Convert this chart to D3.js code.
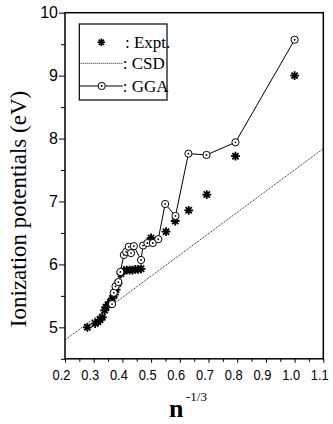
<!DOCTYPE html>
<html>
<head>
<meta charset="utf-8">
<script src="https://cdnjs.cloudflare.com/ajax/libs/d3/7.8.5/d3.min.js"></script>
<style>
	body { margin: 0; background: #fff; }
	svg { display: block; font-family: "Liberation Serif", "Times New Roman", serif; }
	.axis path, .axis line { stroke: #000; }
	.axis text { fill: #000; }
</style>
</head>
<body>
<svg width="333" height="424"></svg>
<script>
//	data
var exptX = [0.278, 0.305, 0.315, 0.322, 0.330, 0.338, 0.343, 0.350, 0.358, 0.365, 0.372, 0.378, 0.385, 0.395,
	0.405, 0.415, 0.425, 0.435, 0.445, 0.455, 0.465, 0.500, 0.552, 0.584, 0.631, 0.694, 0.794, 1.000];
var exptY = [5.00, 5.06, 5.09, 5.12, 5.16, 5.27, 5.32, 5.36, 5.40, 5.46, 5.52, 5.60, 5.70, 5.85,
	5.90, 5.91, 5.91, 5.91, 5.92, 5.92, 5.93, 6.42, 6.52, 6.69, 6.86, 7.11, 7.72, 9.00];
var ggaX = [0.364, 0.370, 0.376, 0.386, 0.393, 0.405, 0.413, 0.422, 0.430, 0.440, 0.465, 0.472, 0.487, 0.506,
	0.525, 0.549, 0.585, 0.630, 0.693, 0.794, 1.000];
var ggaY = [5.37, 5.55, 5.65, 5.72, 5.88, 6.15, 6.20, 6.28, 6.18, 6.29, 6.07, 6.30, 6.34, 6.34,
	6.40, 6.96, 6.77, 7.76, 7.74, 7.94, 9.57];
var csdX = [0.2, 1.1];
var csdY = [4.80, 7.84];
var xTicks = [0.2, 0.3, 0.4, 0.5, 0.6, 0.7, 0.8, 0.9, 1.0, 1.1];
var yTicks = [5, 6, 7, 8, 9, 10];
var legendLabels = [": Expt.", ": CSD", ": GGA"];

var svg = d3.select("svg"),
	margin = {top: 12.7, right: 9.7, bottom: 65.2, left: 65};
var width = svg.attr("width") - margin.left - margin.right,
	height = svg.attr("height") - margin.top - margin.bottom;
var g = svg.append("g").attr("transform", "translate(" + margin.left + "," + margin.top + ")");

var x = d3.scaleLinear().domain([0.2, 1.1]).range([0, width]),
	y = d3.scaleLinear().domain([4.5, 10]).range([height, 0]);

//	asterisk marker, 8 spokes
function star(r) {
	var p = "";
	for (var i = 0; i < 4; i++) {
		var a = i * Math.PI / 4;
		p += "M" + (-r * Math.cos(a)) + "," + (-r * Math.sin(a)) + "L" + (r * Math.cos(a)) + "," + (r * Math.sin(a));
	}
	return p;
}

//	minor ticks
g.append("g")
	.attr("class", "axis")
	.attr("transform", "translate(0," + height + ")")
	.call(d3.axisBottom(x).tickValues(d3.range(0.25, 1.1, 0.1)).tickSize(3).tickFormat(""))
	.select(".domain").remove();
g.append("g")
	.attr("class", "axis")
	.call(d3.axisLeft(y).tickValues(d3.range(4.5, 10, 1)).tickSize(4).tickFormat(""))
	.select(".domain").remove();

//	major ticks + labels
var axX = g.append("g")
	.attr("class", "axis")
	.attr("transform", "translate(0," + height + ")")
	.call(d3.axisBottom(x).tickValues(xTicks).tickSize(4).tickPadding(7).tickFormat(d3.format(".1f")));
axX.select(".domain").remove();
axX.selectAll("text")
	.attr("font-size", 15)
	.attr("transform", "translate(-4,0) scale(0.86,1)");

var axY = g.append("g")
	.attr("class", "axis")
	.call(d3.axisLeft(y).tickValues(yTicks).tickSize(6).tickPadding(1).tickFormat(d3.format("d")));
axY.select(".domain").remove();
axY.selectAll("text").attr("font-size", 16);

//	frame
g.append("rect")
	.attr("width", width)
	.attr("height", height)
	.attr("fill", "none")
	.attr("stroke", "#000")
	.attr("stroke-width", 1.5);

//	CSD dotted line
var csd = csdX.map(function(d, i) { return {x: d, y: csdY[i]}; });
var line = d3.line()
	.x(function(d) { return x(d.x); })
	.y(function(d) { return y(d.y); });
g.append("path")
	.datum(csd)
	.attr("d", line)
	.attr("fill", "none")
	.attr("stroke", "#000")
	.attr("stroke-width", 0.9)
	.attr("stroke-dasharray", "1,1");

//	GGA line + circles
var gga = ggaX.map(function(d, i) { return {x: d, y: ggaY[i]}; });
g.append("path")
	.datum(gga)
	.attr("d", line)
	.attr("fill", "none")
	.attr("stroke", "#000")
	.attr("stroke-width", 1);

//	Expt asterisks
var expt = exptX.map(function(d, i) { return {x: d, y: exptY[i]}; });
g.selectAll(".expt")
	.data(expt)
	.enter().append("path")
		.attr("class", "expt")
		.attr("transform", function(d) { return "translate(" + x(d.x) + "," + y(d.y) + ")"; })
		.attr("d", star(4.4))
		.attr("stroke", "#000")
		.attr("stroke-width", 1.8);

var circ = g.selectAll(".gga")
	.data(gga)
	.enter().append("g")
		.attr("class", "gga")
		.attr("transform", function(d) { return "translate(" + x(d.x) + "," + y(d.y) + ")"; });
circ.append("circle")
	.attr("r", 3.6)
	.attr("fill", "#fff")
	.attr("stroke", "#000")
	.attr("stroke-width", 1);
circ.append("circle")
	.attr("r", 0.9)
	.attr("fill", "#000");

//	legend
var leg = svg.append("g").attr("transform", "translate(79.3,24)");
leg.append("rect")
	.attr("width", 87.7)
	.attr("height", 76)
	.attr("fill", "#fff")
	.attr("stroke", "#000")
	.attr("stroke-width", 1.2);
var rowY = [18.3, 39.3, 62];
leg.append("path")
	.attr("transform", "translate(22," + rowY[0] + ")")
	.attr("d", star(3.8))
	.attr("stroke", "#000")
	.attr("stroke-width", 1.6);
leg.append("line")
	.attr("x1", 0).attr("x2", 43.4)
	.attr("y1", rowY[1]).attr("y2", rowY[1])
	.attr("stroke", "#000")
	.attr("stroke-width", 0.9)
	.attr("stroke-dasharray", "1,1");
leg.append("line")
	.attr("x1", 0).attr("x2", 43.4)
	.attr("y1", rowY[2]).attr("y2", rowY[2])
	.attr("stroke", "#000");
leg.append("circle")
	.attr("cx", 22.4).attr("cy", rowY[2])
	.attr("r", 3.6)
	.attr("fill", "#fff")
	.attr("stroke", "#000");
leg.append("circle")
	.attr("cx", 22.4).attr("cy", rowY[2])
	.attr("r", 0.9)
	.attr("fill", "#000");
leg.selectAll(".lt")
	.data(legendLabels)
	.enter().append("text")
		.attr("class", "lt")
		.attr("x", function(d, i) { return i == 0 ? 45.7 : 43.4; })
		.attr("y", function(d, i) { return rowY[i]; })
		.attr("dy", "0.35em")
		.attr("font-size", 17)
		.text(function(d) { return d; });

//	axis titles
svg.append("text")
	.attr("transform", "translate(26,209) rotate(-90)")
	.attr("text-anchor", "middle")
	.attr("font-size", 23)
	.text("Ionization potentials (eV)");
svg.append("text")
	.attr("x", 169)
	.attr("y", 417)
	.attr("font-size", 26)
	.attr("font-weight", "bold")
	.text("n");
svg.append("text")
	.attr("x", 186)
	.attr("y", 401)
	.attr("font-size", 13)
	.text("-1/3");
</script>
</body>
</html>
